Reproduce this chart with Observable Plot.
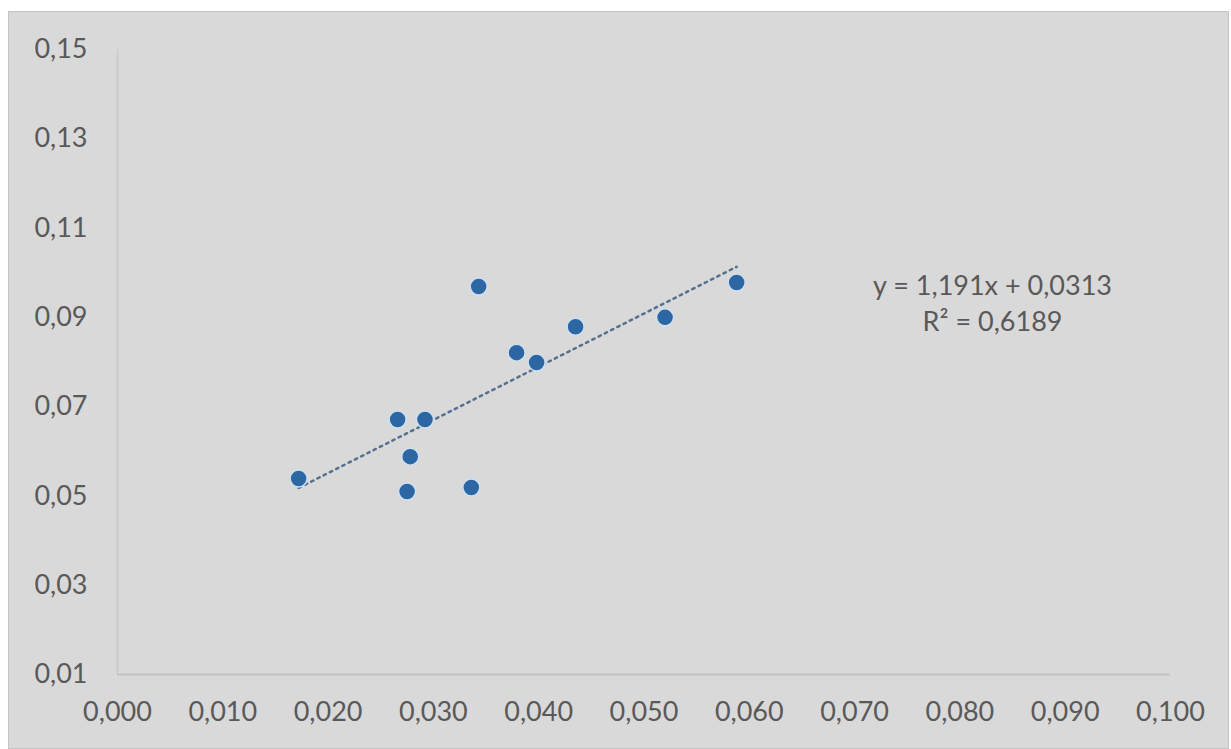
<!DOCTYPE html>
<html><head><meta charset="utf-8">
<script src="https://cdn.jsdelivr.net/npm/d3@7"></script>
<script src="https://cdn.jsdelivr.net/npm/@observablehq/plot@0.6"></script>
<style>
html,body{margin:0;padding:0;background:#ffffff;overflow:hidden;}
#chart{position:absolute;left:8px;top:11px;}
#chart svg{display:block;background:#d9d9d9;border:1px solid #c4c4c4;}
</style></head><body><div id="chart"></div>
<script>
// Data
const xValues = [0.0172, 0.0266, 0.0292, 0.0278, 0.0275, 0.0336, 0.0343, 0.0379, 0.0398, 0.0435, 0.0520, 0.0588];
const yValues = [0.0539, 0.0671, 0.0671, 0.0588, 0.0510, 0.0519, 0.0969, 0.0821, 0.0799, 0.0879, 0.0900, 0.0978];

const xTicks = [0, 0.01, 0.02, 0.03, 0.04, 0.05, 0.06, 0.07, 0.08, 0.09, 0.1];
const xTickLabels = ["0,000", "0,010", "0,020", "0,030", "0,040", "0,050", "0,060", "0,070", "0,080", "0,090", "0,100"];
const yTicks = [0.01, 0.03, 0.05, 0.07, 0.09, 0.11, 0.13, 0.15];
const yTickLabels = ["0,01", "0,03", "0,05", "0,07", "0,09", "0,11", "0,13", "0,15"];

const slope = 1.191;
const intercept = 0.0313;
const eqLines = ["y = 1,191x + 0,0313", "R² = 0,6189"];

const points = xValues.map((x, i) => ({x, y: yValues[i]}));
const xMin = d3.min(xValues), xMax = d3.max(xValues);
const trend = [xMin, xMax].map(x => ({x, y: slope * x + intercept}));

const chart = Plot.plot({
  width: 1219,
  height: 736,
  marginLeft: 108,
  marginRight: 58,
  marginTop: 37,
  marginBottom: 74,
  style: {fontFamily: "Lato, sans-serif", fontSize: "27px", color: "#595959", background: "#d9d9d9"},
  x: {domain: [0, 0.1]},
  y: {domain: [0.01, 0.15]},
  marks: [
    Plot.ruleY([yTicks[0]], {stroke: "#c2c2c2", strokeWidth: 2}),
    Plot.ruleX([xTicks[0]], {y1: yTicks[0], y2: yTicks[yTicks.length - 1], stroke: "#c9c9c9", strokeWidth: 1.5}),
    Plot.axisX({ticks: xTicks, tickFormat: (d) => xTickLabels[xTicks.indexOf(d)], tickSize: 0, tickPadding: 27, label: null}),
    Plot.axisY({ticks: yTicks, tickFormat: (d) => yTickLabels[yTicks.indexOf(d)], tickSize: 0, tickPadding: 30, label: null}),
    Plot.line(trend, {x: "x", y: "y", stroke: "#56708f", strokeWidth: 2.5, strokeDasharray: "2.5 4.5", strokeLinecap: "round"}),
    Plot.dot(points, {x: "x", y: "y", r: 8.5, fill: "#2c66a3", stroke: "#cfe0f0", strokeWidth: 1.5}),
    Plot.text(eqLines, {x: () => 0.0831, y: (d, i) => [0.0969, 0.0889][i], text: d => d, textAnchor: "middle", fill: "#595959", fontSize: 27})
  ]
});
document.getElementById("chart").appendChild(chart);
</script>
</body></html>
